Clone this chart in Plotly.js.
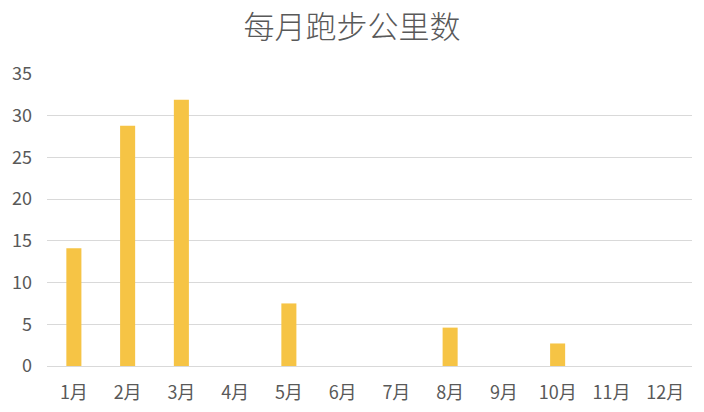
<!DOCTYPE html>
<html>
<head>
<meta charset="utf-8">
<script src="https://cdn.plot.ly/plotly-3.0.1.min.js"></script>
<style>
  body { margin: 0; background: #fff; }
  #plot { width: 704px; height: 412px; }
</style>
</head>
<body>
<div id="plot"></div>
<script>
var months = ['1月', '2月', '3月', '4月', '5月', '6月', '7月', '8月', '9月', '10月', '11月', '12月'];
var km = [14.1, 28.8, 31.9, 0, 7.5, 0, 0, 4.6, 0, 2.7, 0, 0];
var yTicks = [0, 5, 10, 15, 20, 25, 30, 35];

var font = '"Noto Sans CJK SC", "Noto Sans", sans-serif';

Plotly.newPlot('plot', [{
  x: months,
  y: km,
  type: 'bar',
  marker: {color: '#F6C445'},
  hoverinfo: 'x+y'
}], {
  width: 704,
  height: 412,
  margin: {l: 47, r: 12, t: 74, b: 46},
  paper_bgcolor: '#fff',
  plot_bgcolor: '#fff',
  bargap: 0.72,
  showlegend: false,
  title: {
    text: '每月跑步公里数',
    font: {family: font, size: 31, color: '#595959', weight: 300},
    x: 0.5,
    xanchor: 'center',
    y: 0.935,
    yanchor: 'middle'
  },
  xaxis: {
    type: 'category',
    tickfont: {family: font, size: 18, color: '#595959'},
    showgrid: false,
    showline: false,
    ticks: '',
    ticklabelstandoff: 14,
    zeroline: false
  },
  yaxis: {
    range: [0, 35],
    tickvals: yTicks,
    tickfont: {family: font, size: 18, color: '#595959'},
    gridcolor: '#d9d9d9',
    gridwidth: 1,
    zeroline: true,
    zerolinecolor: '#d9d9d9',
    zerolinewidth: 1,
    ticks: '',
    ticklabelstandoff: 14,
    fixedrange: true
  }
}, {displayModeBar: false, staticPlot: true});
</script>
</body>
</html>
